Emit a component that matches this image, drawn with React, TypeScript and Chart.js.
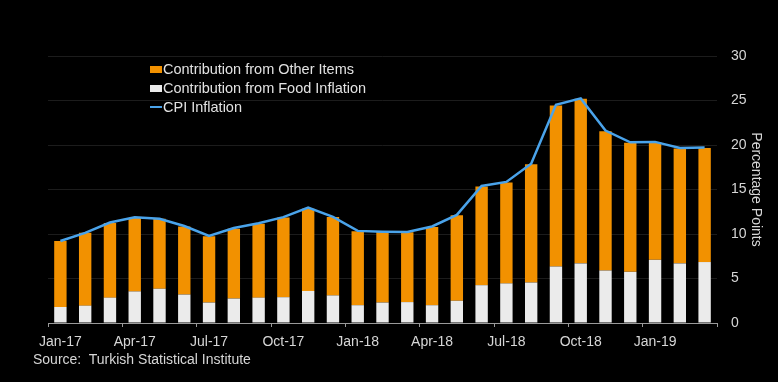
import React, { useEffect, useRef } from "react";
import { Chart, registerables } from "chart.js";

Chart.register(...registerables);

const months = [
  "Jan-17", "Feb-17", "Mar-17", "Apr-17", "May-17", "Jun-17", "Jul-17", "Aug-17", "Sep-17",
  "Oct-17", "Nov-17", "Dec-17", "Jan-18", "Feb-18", "Mar-18", "Apr-18", "May-18", "Jun-18",
  "Jul-18", "Aug-18", "Sep-18", "Oct-18", "Nov-18", "Dec-18", "Jan-19", "Feb-19", "Mar-19",
];
const foodContribution = [
  1.8, 1.95, 2.85, 3.55, 3.85, 3.2, 2.3, 2.75, 2.85, 2.9, 3.6, 3.1, 2.0, 2.3, 2.35, 2.0, 2.5,
  4.25, 4.45, 4.55, 6.35, 6.7, 5.9, 5.75, 7.1, 6.7, 6.85,
];
const otherContribution = [
  7.4, 8.2, 8.4, 8.25, 7.85, 7.65, 7.45, 7.85, 8.3, 8.95, 9.25, 8.8, 8.3, 7.95, 7.85, 8.8, 9.6,
  11.1, 11.35, 13.3, 18.1, 18.5, 15.65, 14.5, 13.2, 12.9, 12.8,
];
const cpiInflation = [
  9.22, 10.13, 11.29, 11.87, 11.72, 10.9, 9.79, 10.68, 11.2, 11.9, 12.98, 11.92, 10.35, 10.26,
  10.23, 10.85, 12.15, 15.39, 15.85, 17.9, 24.52, 25.24, 21.62, 20.3, 20.35, 19.67, 19.71,
];
const yTicks = [0, 5, 10, 15, 20, 25, 30];

const ORANGE = "#f29100";
const WHITE = "#ebebeb";
const BLUE = "#4aa3ea";
const TEXT = "#d6d6d6";
const FONT = "Arial, 'Liberation Sans', sans-serif";

export default function App() {
  const canvasRef = useRef<HTMLCanvasElement | null>(null);

  useEffect(() => {
    document.body.style.margin = "0";
    document.body.style.background = "#000";
    const canvas = canvasRef.current;
    if (!canvas) return;
    const chart = new Chart(canvas, {
      type: "bar",
      data: {
        labels: months,
        datasets: [
          {
            type: "line",
            label: "CPI Inflation",
            data: cpiInflation,
            borderColor: BLUE,
            backgroundColor: BLUE,
            borderWidth: 2.5,
            pointRadius: 0,
            tension: 0,
            order: 0,
          } as any,
          {
            label: "Contribution from Food Inflation",
            data: foodContribution,
            backgroundColor: WHITE,
            stack: "s",
            order: 1,
            barPercentage: 0.5,
            categoryPercentage: 1,
          },
          {
            label: "Contribution from Other Items",
            data: otherContribution,
            backgroundColor: ORANGE,
            stack: "s",
            order: 1,
            barPercentage: 0.5,
            categoryPercentage: 1,
          },
        ],
      },
      options: {
        animation: false,
        responsive: true,
        maintainAspectRatio: false,
        layout: { padding: { left: 48, top: 56, right: 0, bottom: 0 } },
        plugins: { legend: { display: false }, tooltip: { enabled: false } },
        scales: {
          x: {
            stacked: true,
            offset: true,
            grid: {
              offset: true,
              drawOnChartArea: false,
              drawTicks: true,
              tickLength: 4,
              tickColor: (ctx: any) =>
                ctx.index === undefined || ctx.index % 3 === 0 ? "#9a9a9a" : "rgba(0,0,0,0)",
            },
            border: { display: true, color: "#9a9a9a", width: 1 },
            ticks: {
              autoSkip: false,
              maxRotation: 0,
              padding: 7,
              color: TEXT,
              font: { family: FONT, size: 14 },
              callback: (_v: any, i: number) => (i % 3 === 0 ? months[i] : ""),
            },
            afterFit: (s: any) => {
              s.height = 59;
            },
          },
          y: {
            stacked: true,
            position: "right",
            min: 0,
            max: 30,
            afterBuildTicks: (s: any) => {
              s.ticks = yTicks.map((v) => ({ value: v }));
            },
            grid: { color: "#1c1c1c", drawTicks: false },
            border: { display: false },
            ticks: {
              padding: 14,
              color: TEXT,
              font: { family: FONT, size: 14 },
            },
            title: {
              display: true,
              text: "Percentage Points",
              color: TEXT,
              font: { family: FONT, size: 14 },
              padding: { top: 13.5, bottom: 0 },
            },
            afterFit: (s: any) => {
              s.width = 61;
            },
          },
        },
      },
    });
    return () => chart.destroy();
  }, []);

  const legendItem = (top: number, marker: React.ReactNode, text: string) => (
    <div
      style={{
        position: "absolute",
        left: 150,
        top,
        height: 18,
        display: "flex",
        alignItems: "center",
        whiteSpace: "nowrap",
      }}
    >
      <div style={{ width: 13, height: 18, display: "flex", alignItems: "center" }}>{marker}</div>
      <span style={{ color: "#e2e2e2", fontFamily: FONT, fontSize: 14.5, lineHeight: "18px" }}>
        {text}
      </span>
    </div>
  );

  return (
    <div style={{ position: "absolute", left: 0, top: 0, width: 778, height: 382, background: "#000" }}>
      <canvas ref={canvasRef} />
      {legendItem(60, <div style={{ width: 12, height: 7, background: ORANGE }} />, "Contribution from Other Items")}
      {legendItem(79, <div style={{ width: 12, height: 7, background: WHITE }} />, "Contribution from Food Inflation")}
      {legendItem(98, <div style={{ width: 12, height: 2, background: BLUE }} />, "CPI Inflation")}
      <div
        style={{
          position: "absolute",
          left: 33,
          top: 350,
          color: TEXT,
          fontFamily: FONT,
          fontSize: 14,
          lineHeight: "18px",
          whiteSpace: "pre",
        }}
      >
        {"Source:  Turkish Statistical Institute"}
      </div>
    </div>
  );
}
